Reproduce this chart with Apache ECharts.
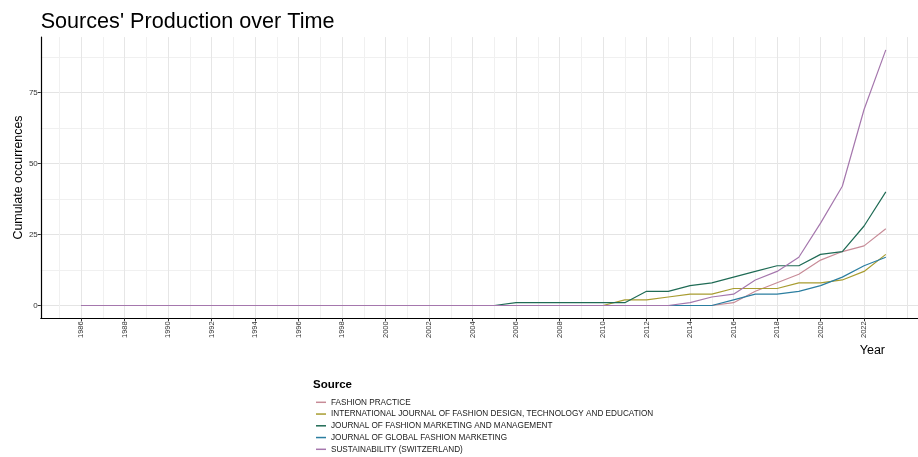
<!DOCTYPE html>
<html>
<head>
<meta charset="utf-8">
<script src="https://cdn.jsdelivr.net/npm/echarts@6/dist/echarts.min.js"></script>
<style>
html,body{margin:0;padding:0;background:#fff;}
#chart{width:918px;height:457px;}
</style>
</head>
<body>
<div id="chart"></div>
<script>
// ---- data ----
const years = [1986,1987,1988,1989,1990,1991,1992,1993,1994,1995,1996,1997,1998,1999,2000,2001,2002,2003,2004,2005,2006,2007,2008,2009,2010,2011,2012,2013,2014,2015,2016,2017,2018,2019,2020,2021,2022,2023];
const fashionPractice = [0,0,0,0,0,0,0,0,0,0,0,0,0,0,0,0,0,0,0,0,0,0,0,0,0,0,0,0,0,0,1,5,8,11,16,19,21,27];
const ijfdte          = [0,0,0,0,0,0,0,0,0,0,0,0,0,0,0,0,0,0,0,0,0,0,0,0,0,2,2,3,4,4,6,6,6,8,8,9,12,18];
const jfmm            = [0,0,0,0,0,0,0,0,0,0,0,0,0,0,0,0,0,0,0,0,1,1,1,1,1,1,5,5,7,8,10,12,14,14,18,19,28,40];
const jgfm            = [0,0,0,0,0,0,0,0,0,0,0,0,0,0,0,0,0,0,0,0,0,0,0,0,0,0,0,0,0,0,2,4,4,5,7,10,14,17];
const sustainability  = [0,0,0,0,0,0,0,0,0,0,0,0,0,0,0,0,0,0,0,0,0,0,0,0,0,0,0,0,1,3,4,9,12,17,29,42,69,90];
const seriesNames = [
  'FASHION PRACTICE',
  'INTERNATIONAL JOURNAL OF FASHION DESIGN, TECHNOLOGY AND EDUCATION',
  'JOURNAL OF FASHION MARKETING AND MANAGEMENT',
  'JOURNAL OF GLOBAL FASHION MARKETING',
  'SUSTAINABILITY (SWITZERLAND)'
];
const seriesValues = [fashionPractice, ijfdte, jfmm, jgfm, sustainability];
const seriesColors = ['#c78b97', '#a89c30', '#1f6b55', '#2b7ea0', '#a577ad'];
const yTicks = [0, 25, 50, 75];

const FONT = '"Liberation Sans", Arial, sans-serif';
const chart = echarts.init(document.getElementById('chart'), null, {renderer: 'canvas'});

const hidden = {show: false};
const option = {
  animation: false,
  backgroundColor: '#ffffff',
  grid: [
    {left: 40.8, top: 37.1, width: 877.2, height: 281.2},   // 0 data
    {left: 59.25, top: 37.1, width: 848.25, height: 281.2}, // 1 vertical grid
    {left: 40.8, top: 57.0, width: 877.2, height: 248.5},   // 2 horizontal grid
    {left: 81, top: 308.3, width: 783, height: 10},         // 3 x labels
    {left: 40.8, top: 92.5, width: 10, height: 213}         // 4 y labels
  ],
  xAxis: [
    {gridIndex: 0, type: 'value', min: 1984.15, max: 2024.48,
     axisLine: {show: true, onZero: false, lineStyle: {color: '#000', width: 1.2}},
     axisTick: hidden, axisLabel: hidden, splitLine: hidden},
    {gridIndex: 1, type: 'value', min: 1985, max: 2024, interval: 1,
     axisLine: {show: false, onZero: false}, axisTick: hidden, axisLabel: hidden,
     splitLine: {show: true, lineStyle: {color: ['#f0f0f0', '#e6e6e6'], width: 1}}},
    {gridIndex: 2, type: 'value', min: 0, max: 1,
     axisLine: {show: false, onZero: false}, axisTick: hidden, axisLabel: hidden, splitLine: hidden},
    {gridIndex: 3, type: 'value', min: 1986, max: 2022, interval: 2,
     axisLine: {show: false, onZero: false},
     axisTick: {show: true, length: 3, lineStyle: {color: '#333'}},
     axisLabel: {show: true, rotate: 90, fontSize: 7.5, color: '#333', margin: 3, fontFamily: FONT,
                 formatter: v => String(v)},
     splitLine: hidden},
    {gridIndex: 4, type: 'value', min: 0, max: 1,
     axisLine: {show: false, onZero: false}, axisTick: hidden, axisLabel: hidden, splitLine: hidden}
  ],
  yAxis: [
    {gridIndex: 0, type: 'value', min: -4.5, max: 94.5,
     axisLine: {show: true, onZero: false, lineStyle: {color: '#000', width: 1.2}},
     axisTick: hidden, axisLabel: hidden, splitLine: hidden},
    {gridIndex: 1, type: 'value', min: 0, max: 1,
     axisLine: {show: false, onZero: false}, axisTick: hidden, axisLabel: hidden, splitLine: hidden},
    {gridIndex: 2, type: 'value', min: 0, max: 87.5, interval: 12.5,
     axisLine: {show: false, onZero: false}, axisTick: hidden, axisLabel: hidden,
     splitLine: {show: true, lineStyle: {color: ['#e4e4e4', '#f0f0f0'], width: 1}}},
    {gridIndex: 3, type: 'value', min: 0, max: 1,
     axisLine: {show: false, onZero: false}, axisTick: hidden, axisLabel: hidden, splitLine: hidden},
    {gridIndex: 4, type: 'value', min: yTicks[0], max: yTicks[yTicks.length - 1], interval: 25,
     axisLine: {show: false, onZero: false},
     axisTick: {show: true, length: 3, lineStyle: {color: '#333'}},
     axisLabel: {show: true, fontSize: 8, color: '#333', margin: 3, fontFamily: FONT},
     splitLine: hidden}
  ],
  legend: {
    orient: 'vertical',
    left: 316, top: 397.3,
    padding: 0,
    itemWidth: 10, itemHeight: 1.5,
    itemGap: 1.75,
    icon: 'rect',
    selectedMode: false,
    textStyle: {fontSize: 8.2, lineHeight: 10, color: '#1a1a1a', fontFamily: FONT},
    data: seriesNames
  },
  graphic: [
    {type: 'text', left: 40.7, top: 11, silent: true,
     style: {text: "Sources' Production over Time", font: '21.6px ' + FONT, fill: '#000'}},
    {type: 'text', x: 18.5, y: 177.5, rotation: Math.PI / 2, silent: true,
     style: {text: 'Cumulate occurrences', font: '12.4px ' + FONT, fill: '#000',
             align: 'center', verticalAlign: 'middle'}},
    {type: 'text', x: 885, y: 351, silent: true,
     style: {text: 'Year', font: '12.5px ' + FONT, fill: '#000',
             align: 'right', verticalAlign: 'middle'}},
    {type: 'text', x: 313, y: 385.3, silent: true,
     style: {text: 'Source', font: 'bold 11.5px ' + FONT, fill: '#000',
             align: 'left', verticalAlign: 'middle'}}
  ],
  series: seriesNames.map((name, k) => ({
    name: name,
    type: 'line',
    xAxisIndex: 0, yAxisIndex: 0,
    data: years.map((yr, i) => [yr, seriesValues[k][i]]),
    showSymbol: false,
    symbol: 'none',
    color: seriesColors[k],
    lineStyle: {width: 1.2, color: seriesColors[k]},
    itemStyle: {color: seriesColors[k]},
    silent: true,
    z: 5 + k
  }))
};
chart.setOption(option);
</script>
</body>
</html>
